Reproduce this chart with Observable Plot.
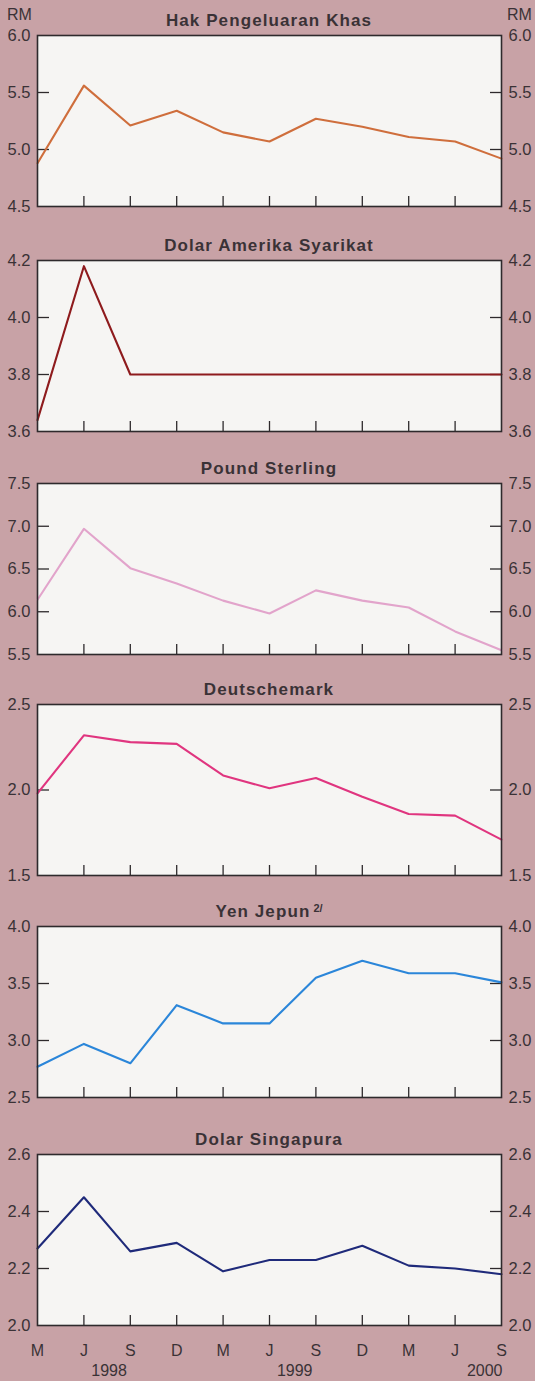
<!DOCTYPE html>
<html>
<head>
<meta charset="utf-8">
<script src="https://cdn.jsdelivr.net/npm/d3@7"></script>
<script src="https://cdn.jsdelivr.net/npm/@observablehq/plot@0.6"></script>
<style>
  html, body { margin: 0; padding: 0; background: #c8a2a6; }
  #chart { position: relative; width: 535px; height: 1381px; overflow: hidden;
           font-family: "Liberation Sans", Arial, Helvetica, sans-serif; color: #3a3236; }
  .panel { position: absolute; left: 0; }
  .title { position: absolute; left: 37px; width: 464px; text-align: center;
           font-weight: bold; font-size: 17px; line-height: 17px; letter-spacing: 1.1px; white-space: nowrap; }
  .title sup { font-size: 11px; font-weight: bold; letter-spacing: 0; position: relative; top: -3px; vertical-align: top; margin-left: 3px; }
  .rm { position: absolute; top: 7px; font-size: 16px; line-height: 16px; }
</style>
</head>
<body>
<div id="chart"></div>
<script>
// ---- data ----
const periods = ["M","J","S","D","M","J","S","D","M","J","S"];
const periodYears = [1998,1998,1998,1998,1999,1999,1999,1999,2000,2000,2000];
const titles = ["Hak Pengeluaran Khas","Dolar Amerika Syarikat","Pound Sterling","Deutschemark","Yen Jepun","Dolar Singapura"];
const titleNotes = ["","","","","2/",""];
const unitLabel = "RM";

const sdr = [4.88,5.56,5.21,5.34,5.15,5.07,5.27,5.20,5.11,5.07,4.92];
const usd = [3.64,4.18,3.80,3.80,3.80,3.80,3.80,3.80,3.80,3.80,3.80];
const gbp = [6.14,6.97,6.51,6.33,6.13,5.98,6.25,6.13,6.05,5.77,5.55];
const dem = [1.98,2.32,2.28,2.27,2.085,2.01,2.07,1.96,1.86,1.85,1.71];
const jpy = [2.77,2.97,2.80,3.31,3.15,3.15,3.55,3.70,3.59,3.59,3.51];
const sgd = [2.27,2.45,2.26,2.29,2.19,2.23,2.23,2.28,2.21,2.20,2.18];

const sdrTicks = [4.5,5.0,5.5,6.0];
const usdTicks = [3.6,3.8,4.0,4.2];
const gbpTicks = [5.5,6.0,6.5,7.0,7.5];
const demTicks = [1.5,2.0,2.5];
const jpyTicks = [2.5,3.0,3.5,4.0];
const sgdTicks = [2.0,2.2,2.4,2.6];

const lineColors = ["#cf6e3c","#8e1b1d","#e2a4cb","#e0357f","#2b86d9","#1f2a7a"];

// ---- layout ----
const series = [sdr, usd, gbp, dem, jpy, sgd];
const tickSets = [sdrTicks, usdTicks, gbpTicks, demTicks, jpyTicks, sgdTicks];
const plotTops = [35, 260, 483, 704, 926, 1154];
const plotH = 171;
const W = 535, ML = 37, MR = 34;
const ink = "#2e2a2c";
const font = "'Liberation Sans', Arial, Helvetica, sans-serif";
const noText = () => "";

const chart = document.getElementById("chart");
const idx = d3.range(periods.length);
const innerIdx = idx.slice(1, -1);

// year labels derived from the period list
const yearGroups = d3.groups(idx, i => periodYears[i]);
const yearMid = yearGroups.slice(0, -1).map(([y, is]) => ({year: String(y), x: d3.mean(is)}));
const yearEnd = yearGroups.slice(-1).map(([y, is]) => ({year: String(y), x: d3.max(is)}));

series.forEach((vals, p) => {
  const ticks = tickSets[p];
  const inner = ticks.slice(1, -1);
  const last = p === series.length - 1;
  const mt = 12, mb = last ? (1381 - plotTops[p] - plotH) : 12;

  const marks = [
    Plot.frame({fill: "#f6f5f3", stroke: null}),
    Plot.axisY(inner, {anchor: "left", tickSize: 12, dx: 12, tickFormat: noText, label: null, stroke: ink, strokeWidth: 1.3}),
    Plot.axisY(inner, {anchor: "right", tickSize: 12, dx: -12, tickFormat: noText, label: null, stroke: ink, strokeWidth: 1.3}),
    Plot.axisY(ticks, {anchor: "left", tickSize: 0, tickPadding: 7, tickFormat: d => d.toFixed(1), label: null, fontSize: 16.5, fill: "#3a3236"}),
    Plot.axisY(ticks, {anchor: "right", tickSize: 0, tickPadding: 7, tickFormat: d => d.toFixed(1), label: null, fontSize: 16.5, fill: "#3a3236"}),
    Plot.axisX(innerIdx, {anchor: "bottom", tickSize: 10, dy: -10, tickFormat: noText, label: null, stroke: ink, strokeWidth: 1.3}),
    Plot.line(vals, {x: (d, i) => i, y: d => d, stroke: lineColors[p], strokeWidth: 2.1}),
    Plot.frame({stroke: ink, strokeWidth: 1.6})
  ];
  if (last) {
    marks.push(
      Plot.axisX(idx, {anchor: "bottom", tickSize: 0, tickPadding: 19, tickFormat: i => periods[i], label: null, fontSize: 16, fill: "#3a3236"}),
      Plot.text(yearMid, {x: "x", text: "year", frameAnchor: "bottom", dy: 50, dx: 2, fontSize: 16, fill: "#3a3236"}),
      Plot.text(yearEnd, {x: "x", text: "year", frameAnchor: "bottom", dy: 50, dx: 1, textAnchor: "end", fontSize: 16, fill: "#3a3236"})
    );
  }

  const svg = Plot.plot({
    width: W,
    height: mt + plotH + mb,
    marginLeft: ML, marginRight: MR, marginTop: mt, marginBottom: mb,
    style: {background: "none", overflow: "visible", fontFamily: font, fontSize: "16.5px", color: "#3a3236"},
    x: {domain: [0, periods.length - 1], label: null},
    y: {domain: d3.extent(ticks), label: null},
    marks
  });

  const div = document.createElement("div");
  div.className = "panel";
  div.style.top = (plotTops[p] - mt) + "px";
  div.appendChild(svg);
  chart.appendChild(div);

  const t = document.createElement("div");
  t.className = "title";
  t.style.top = (plotTops[p] - 22.7) + "px";
  t.textContent = titles[p];
  if (titleNotes[p]) {
    const s = document.createElement("sup");
    s.textContent = titleNotes[p];
    t.appendChild(s);
  }
  chart.appendChild(t);
});

["left", "right"].forEach(side => {
  const r = document.createElement("div");
  r.className = "rm";
  r.textContent = unitLabel;
  r.style.left = side === "left" ? "7px" : "507px";
  chart.appendChild(r);
});
</script>
</body>
</html>
